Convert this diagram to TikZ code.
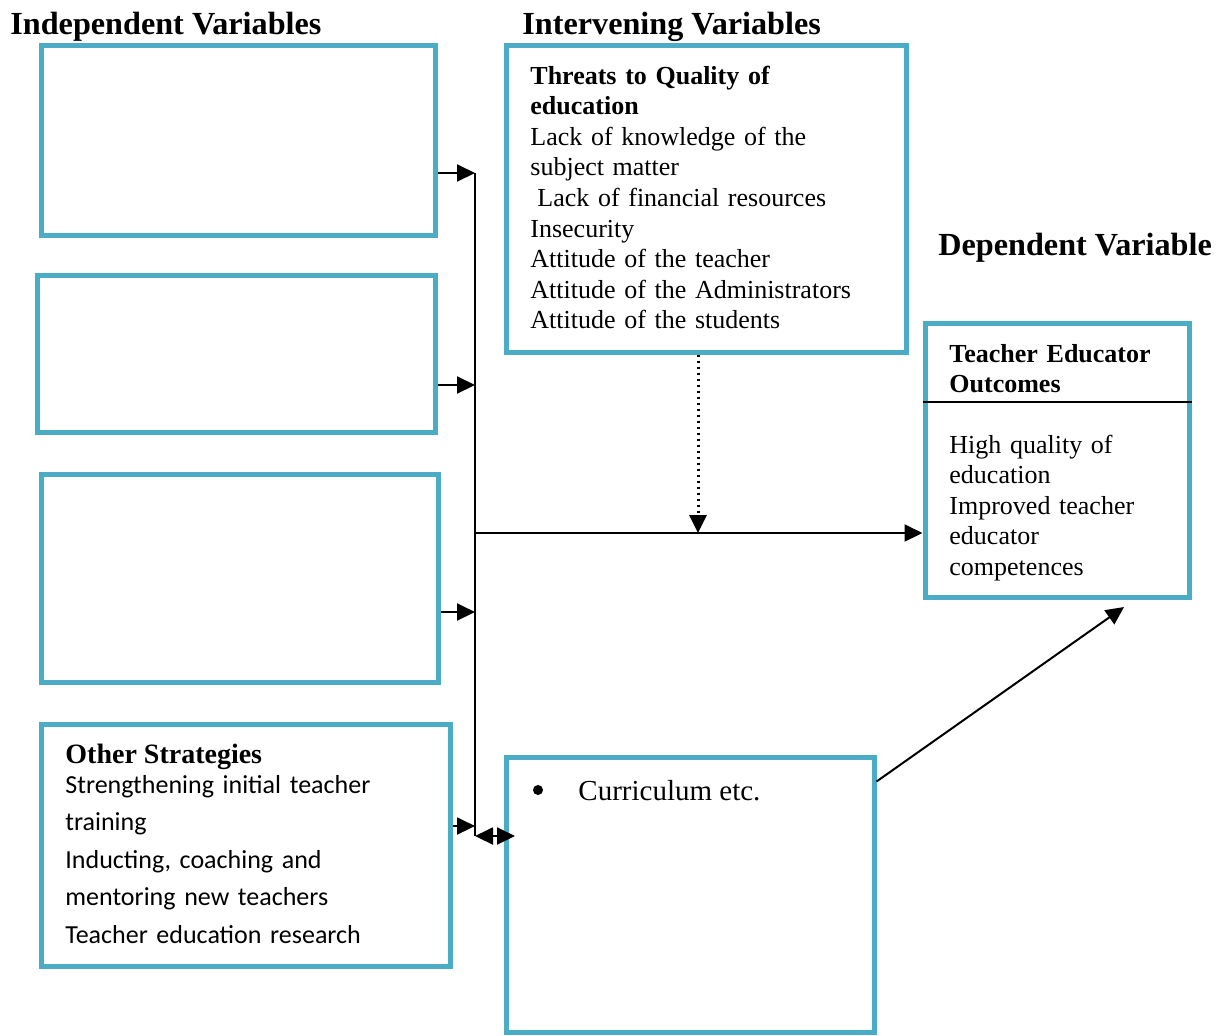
\documentclass[tikz,border=0pt]{standalone}
\usepackage{fontspec}
\setmainfont{Liberation Serif}
\newfontfamily\calib{Carlito}
\usetikzlibrary{arrows.meta}
\definecolor{boxblue}{RGB}{75,172,198}

\begin{document}
\begin{tikzpicture}
[x=0.5pt,y=-0.5pt,>={Triangle[length=9pt,width=8.5pt]},
frame/.style={draw=boxblue,line width=2.5pt,inner sep=0pt},
head/.style={anchor=base west,inner sep=0pt,font=\fontsize{16.1}{19}\selectfont\bfseries},
txt/.style={anchor=base west,inner sep=0pt,align=left,font=\fontsize{13}{15.3}\selectfont},
link/.style={line width=1pt}]
\useasboundingbox (0,0) rectangle (1224,1035);

% headings
\node[head] at (10,34)  (indep)  {Independent Variables};
\node[head] at (522,34) (interv) {Intervening Variables};
\node[head] at (938,255) (dep)   {Dependent Variable};

% boxes
\node[frame,minimum width=197pt,minimum height=95pt]     at (238,140)   (box1) {};
\node[frame,minimum width=199pt,minimum height=78.5pt]   at (236,353.5) (box2) {};
\node[frame,minimum width=198.5pt,minimum height=104pt]  at (239.5,578) (box3) {};
\node[frame,minimum width=204.5pt,minimum height=121pt]  at (245.5,845) (other) {};
\node[frame,minimum width=200pt,minimum height=153.5pt]  at (706,198.5) (threats) {};
\node[frame,minimum width=132pt,minimum height=137pt]    at (1057,460)  (outcome) {};
\node[frame,minimum width=184pt,minimum height=137.5pt]  at (690,894.5) (curric) {};

% texts
\node[txt,text width=185pt] at (530,84) (threatstxt) {\textbf{Threats to Quality of}\\
  \textbf{education}\\ Lack of knowledge of the\\ subject matter\\
  \hspace*{3.5pt}Lack of financial resources\\ Insecurity\\ Attitude of the teacher\\
  Attitude of the Administrators\\ Attitude of the students};
\node[txt,text width=120pt] at (949,362) (outtitle) {\textbf{Teacher Educator}\\ \textbf{Outcomes}};
\node[txt,text width=120pt] at (949,453) (outbody) {High quality of\\ education\\
  Improved teacher\\ educator\\ competences};
\node[head,font=\fontsize{14}{16}\selectfont\bfseries] at (65,763) (othertitle) {Other Strategies};
\node[txt,text width=190pt,font=\calib\fontsize{13}{18.75}\selectfont] at (65,793) (otherbody)
  {Strengthening initial teacher\\ training\\ Inducting, coaching and\\
  mentoring new teachers\\ Teacher education research};
\node[circle,fill,inner sep=0pt,minimum size=5pt] at (538,790) (bul) {};
\node[txt,font=\fontsize{14.5}{17}\selectfont] at (578,800) (currtxt) {Curriculum etc.};

% connectors
\coordinate (j1) at (475,173);
\coordinate (j2) at (475,385);
\coordinate (j3) at (475,612);
\coordinate (j4) at (475,826);
\coordinate (jbot) at (475,836);
\coordinate (jmid) at (475,533);
\coordinate (meet) at (698,533);
\coordinate (tip) at (1124,607);
\coordinate (cend) at (515,836);
\coordinate (sep) at (1057,402);

\draw[link] (j1) -- (jbot);
\draw[link,->] (box1.east |- j1) -- (j1);
\draw[link,->] (box2.east |- j2) -- (j2);
\draw[link,->] (box3.east |- j3) -- (j3);
\draw[link,->] (other.east |- j4) -- (j4);
\draw[link,->] (jmid) -- (outcome.west |- jmid);
\draw[line width=1.5pt,dash pattern=on 1.4pt off 1.6pt,->] (threats.south -| meet) -- (meet);
\draw[link,<->] (jbot) -- (cend);
\draw[link,->] ([yshift=-13.5pt]curric.north east) -- (tip);
\draw[line width=0.8pt] (outcome.west |- sep) -- (outcome.east |- sep);
\end{tikzpicture}
\end{document}
